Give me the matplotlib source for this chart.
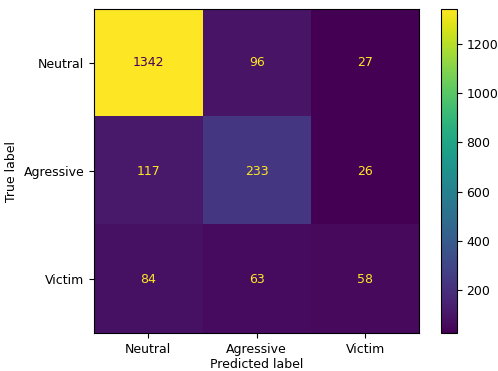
import matplotlib
matplotlib.use("Agg")
import matplotlib.pyplot as plt
import numpy as np

# Class names and confusion matrix counts (rows = true, cols = predicted)
labels = ['Neutral', 'Agressive', 'Victim']
counts = np.array([
    [1342, 96, 27],
    [117, 233, 26],
    [84, 63, 58],
])

fig = plt.figure(figsize=(4.98, 3.71), dpi=100)
ax = fig.add_axes([0.189, 0.102, 0.653, 0.874])
cax = fig.add_axes([0.886, 0.102, 0.031, 0.874])

cmap = plt.get_cmap('viridis')
im = ax.imshow(counts, interpolation='nearest', cmap=cmap, aspect='auto')

# text colour flips at the midpoint, like sklearn's display
thresh = (counts.max() + counts.min()) / 2.0
cmap_min, cmap_max = cmap(0), cmap(1.0)
for i in range(counts.shape[0]):
    for j in range(counts.shape[1]):
        color = cmap_min if counts[i, j] > thresh else cmap_max
        ax.text(j, i, format(counts[i, j], 'd'), ha='center', va='center',
                color=color, fontsize=9)

ax.set_xticks(np.arange(len(labels)))
ax.set_yticks(np.arange(len(labels)))
ax.set_xticklabels(labels, fontsize=9)
ax.set_yticklabels(labels, fontsize=9)
ax.set_xlabel('Predicted label', fontsize=9, labelpad=1.5)
ax.set_ylabel('True label', fontsize=9)

cb = fig.colorbar(im, cax=cax)
cb.ax.tick_params(labelsize=9)

plt.savefig('out.png', dpi=100)
